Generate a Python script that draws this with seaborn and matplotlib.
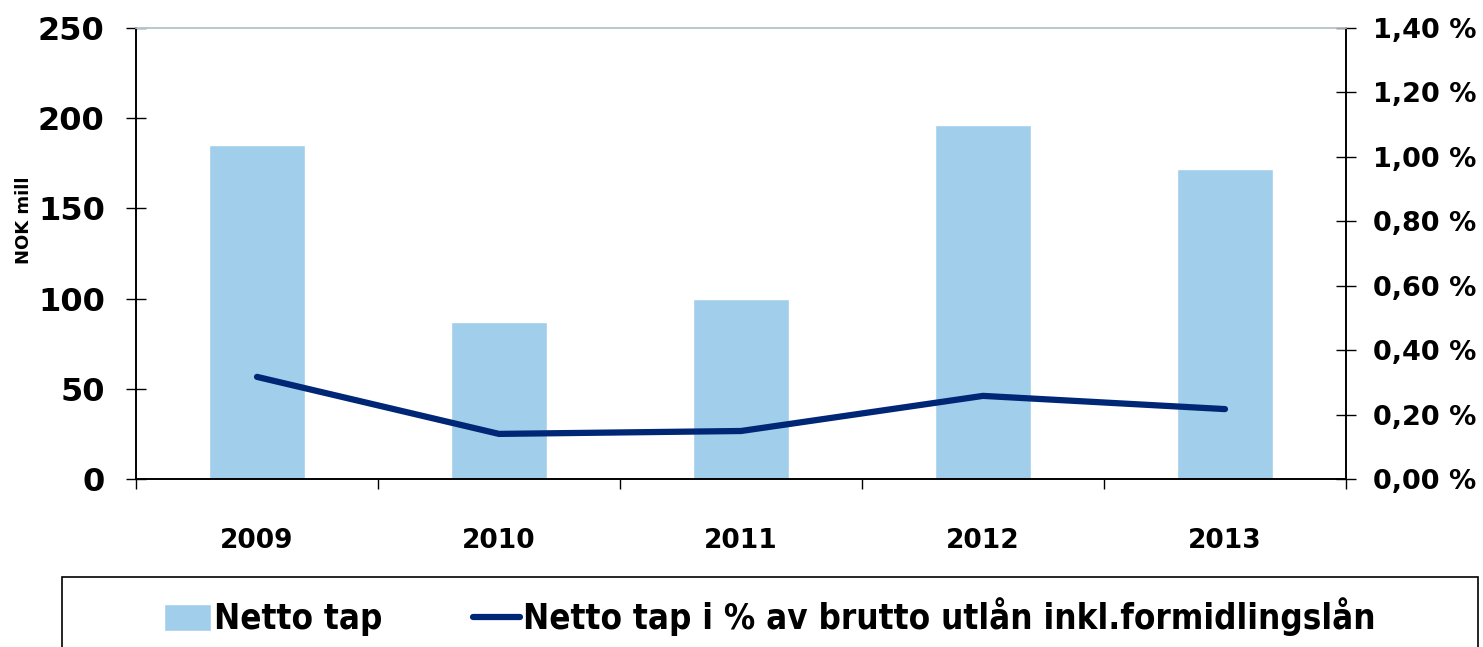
import numpy as np
import pandas as pd
import matplotlib
matplotlib.use("Agg")
import matplotlib.pyplot as plt
import seaborn as sns
from matplotlib.patches import Rectangle
from matplotlib.ticker import FixedLocator, FuncFormatter

sns.set_style("white")
plt.rcParams['font.family'] = ['DejaVu Sans']
plt.rcParams['text.color'] = 'black'

years = ['2009', '2010', '2011', '2012', '2013']
netto_tap = [185, 87, 100, 196, 172]                 # NOK mill
netto_tap_pct = [0.317, 0.14, 0.149, 0.258, 0.217]   # % av brutto utlån

bar_color = '#A1CEEA'
line_color = '#002776'

df = pd.DataFrame({'year': years, 'tap': netto_tap, 'pct': netto_tap_pct})
df['pos'] = np.arange(len(years))

fig = plt.figure(figsize=(14.83, 6.47), dpi=100)
ax = fig.add_axes([136/1483, 1-479/647, (1346-136)/1483, (479-28)/647])

sns.barplot(data=df, x='year', y='tap', color=bar_color, width=0.4,
            saturation=1, ax=ax, label='Netto tap')
ax.set_ylim(0, 250)
ax.set_xlim(-0.5, len(years)-0.5)
ax.set_yticks([0, 50, 100, 150, 200, 250])
ax.set_xlabel('')
ax.set_ylabel('NOK mill', fontsize=13, fontweight='bold', color='black')
ax.yaxis.set_label_coords(-0.085, 0.574)
ax.tick_params(axis='y', direction='inout', length=15, width=1, pad=15,
               labelsize=23, left=True, colors='black')
for t in ax.get_yticklabels():
    t.set_fontweight('bold')
ax.tick_params(axis='x', length=0, pad=35, labelsize=19, colors='black')
for t in ax.get_xticklabels():
    t.set_fontweight('bold')
ax.xaxis.set_minor_locator(FixedLocator(np.arange(len(years)+1) - 0.5))
ax.tick_params(axis='x', which='minor', direction='out', length=7, width=1,
               bottom=True, color='black')

ax2 = ax.twinx()
sns.lineplot(data=df, x='pos', y='pct', color=line_color, linewidth=4.5,
             ax=ax2, label='Netto tap i % av brutto utlån inkl.formidlingslån')
for ln in ax2.get_lines():
    ln.set_solid_capstyle('round')
ax2.set_ylim(0, 1.4)
ax2.set_xlim(-0.5, len(years)-0.5)
ax2.set_yticks(np.arange(0, 1.41, 0.2))
ax2.yaxis.set_major_formatter(FuncFormatter(lambda v, p: f'{v:.2f} %'.replace('.', ',')))
ax2.set_ylabel('')
ax2.set_xlabel('')
ax2.tick_params(axis='y', direction='inout', length=15, width=1, pad=12,
                labelsize=19.5, right=True, colors='black')
for t in ax2.get_yticklabels():
    t.set_fontweight('bold')
ax2.get_legend().remove()

for a in (ax, ax2):
    a.spines['left'].set_color('black')
    a.spines['right'].set_color('black')
    a.spines['bottom'].set_color('black')
    a.spines['top'].set_color('#B9C7D0')
    for s in a.spines.values():
        s.set_linewidth(1.2)

h1, l1 = ax.get_legend_handles_labels()
h2, l2 = ax2.get_legend_handles_labels()
if ax.get_legend() is not None:
    ax.get_legend().remove()

leg = fig.legend(h1 + h2, l1 + l2, loc='center left', ncol=2,
                 bbox_to_anchor=(150/1483, 1-617/647), frameon=False,
                 prop={'family': 'DejaVu Sans', 'stretch': 'condensed',
                       'weight': 'bold', 'size': 25},
                 handlelength=1.35, handleheight=0.8, handletextpad=0.1,
                 columnspacing=2.6, borderaxespad=0)
for t in leg.get_texts():
    t.set_color('black')

fig.patches.append(Rectangle((62/1483, -0.05), (1478-62)/1483, (647-577)/647 + 0.05,
                             transform=fig.transFigure, fill=False,
                             edgecolor='black', linewidth=1.2))

fig.savefig('out.png', dpi=100)
